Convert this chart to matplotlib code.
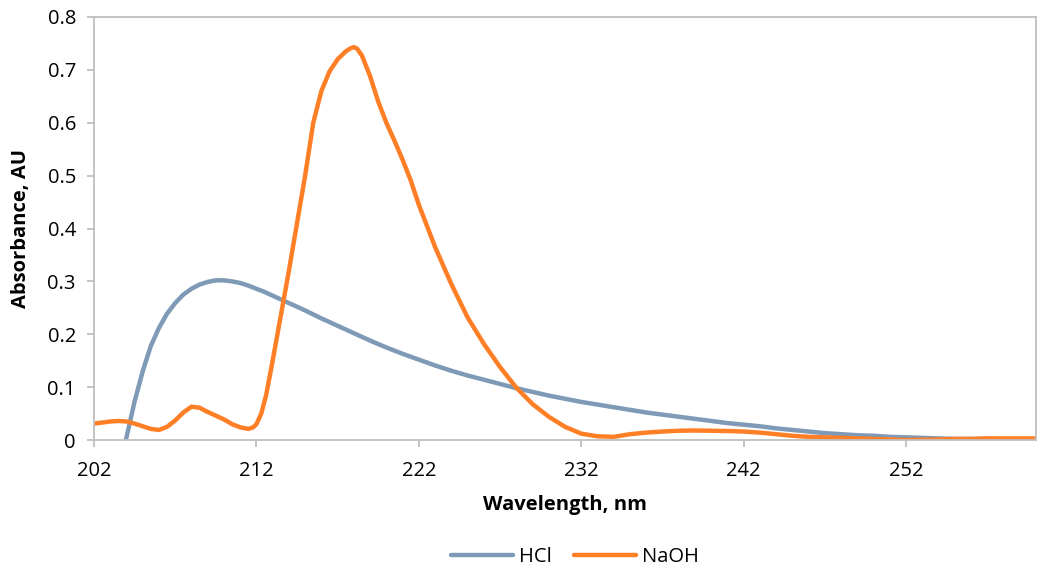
import matplotlib
matplotlib.use("Agg")
import matplotlib.pyplot as plt

hcl_wl = [202, 203, 203.5, 204, 204.5, 205, 205.5, 206, 206.5, 207, 207.5, 208, 208.5, 209, 209.5, 210, 210.5,
          211, 211.5, 212, 212.5, 213, 214, 215, 216, 217, 218, 219, 220, 221, 222, 223, 224, 225, 226, 227, 228,
          229, 230, 231, 232, 233, 234, 235, 236, 237, 238, 239, 240, 241, 242, 243, 244, 245, 246,
          247, 248, 249, 250, 251, 252, 253, 254, 255, 256, 257, 258, 259, 260]
hcl_abs = [-0.26, -0.13, -0.06, 0.005, 0.073, 0.13, 0.178, 0.212, 0.239, 0.259, 0.275, 0.286, 0.294, 0.299, 0.302, 0.302, 0.300,
           0.297, 0.292, 0.286, 0.280, 0.273, 0.259, 0.245, 0.23, 0.216, 0.202, 0.188, 0.175, 0.163, 0.152, 0.141, 0.131, 0.122, 0.114, 0.106, 0.098,
           0.091, 0.084, 0.078, 0.072, 0.067, 0.062, 0.057, 0.052, 0.048, 0.044, 0.040, 0.036, 0.032, 0.029, 0.026, 0.022, 0.019, 0.016,
           0.013, 0.011, 0.009, 0.008, 0.006, 0.005, 0.004, 0.003, 0.002, 0.002, 0.002, 0.001, 0.001, 0.001]

naoh_wl = [202, 202.5, 203, 203.5, 204, 204.5, 205, 205.5, 206, 206.5, 207, 207.5, 208, 208.5, 209, 209.5,
           210, 210.5, 211, 211.5, 211.8, 212, 212.3, 212.6, 213, 213.5, 214, 214.5, 215, 215.5, 216, 216.5,
           217, 217.5, 217.8, 218, 218.2, 218.5, 219, 219.5, 220, 220.5, 221, 221.5, 222, 222.5, 223, 223.5,
           224, 225, 226, 227, 228, 229, 230, 231, 232, 233, 234, 235, 236, 237, 238,
           239, 240, 241, 242, 243, 244, 245, 246, 247, 248, 249, 250, 251, 252, 253, 254, 255, 256,
           257, 258, 259, 260]
naoh_abs = [0.031, 0.033, 0.035, 0.036, 0.035, 0.031, 0.026, 0.021, 0.019, 0.025, 0.037, 0.052, 0.063, 0.061, 0.053, 0.046,
            0.039, 0.030, 0.024, 0.021, 0.024, 0.030, 0.050, 0.085, 0.150, 0.235, 0.320, 0.410, 0.50, 0.600, 0.660, 0.697,
            0.72, 0.735, 0.741, 0.743, 0.740, 0.727, 0.688, 0.640, 0.600, 0.566, 0.530, 0.491, 0.445, 0.405, 0.365, 0.330,
            0.295, 0.232, 0.182, 0.138, 0.099, 0.068, 0.044, 0.025, 0.012, 0.007, 0.006, 0.011, 0.014, 0.016, 0.0175,
            0.018, 0.0175, 0.017, 0.016, 0.014, 0.011, 0.008, 0.006, 0.005, 0.004, 0.003, 0.002, 0.001, 0.0, 0.0005, 0.001, 0.002, 0.002,
            0.003, 0.003, 0.003, 0.003]

x_ticks = [202, 212, 222, 232, 242, 252]
y_ticks = [0, 0.1, 0.2, 0.3, 0.4, 0.5, 0.6, 0.7, 0.8]
y_tick_labels = ["0", "0.1", "0.2", "0.3", "0.4", "0.5", "0.6", "0.7", "0.8"]

plt.rcParams['font.family'] = ['Open Sans', 'DejaVu Sans']

fig = plt.figure(figsize=(10.46, 5.74), dpi=100)
ax = fig.add_axes([94/1046, 1-440/574, (1036-94)/1046, (440-17)/574])

blue = "#7E9AB6"
orange = "#FF7F27"
ax.plot(hcl_wl, hcl_abs, color=blue, lw=3.2, label="HCl", solid_capstyle="round", solid_joinstyle="round")
ax.plot(naoh_wl, naoh_abs, color=orange, lw=3.2, label="NaOH", solid_capstyle="round", solid_joinstyle="round")

ax.set_xlim(202, 260)
ax.set_ylim(0, 0.8)
ax.set_xticks(x_ticks)
ax.set_xticklabels([str(t) for t in x_ticks])
ax.set_yticks(y_ticks)
ax.set_yticklabels(y_tick_labels)

for s in ax.spines.values():
    s.set_color("#BFBFBF")
    s.set_linewidth(1.3)
ax.tick_params(axis="both", colors="#BFBFBF", length=5, width=1.3, labelcolor="black", labelsize=14.5)
ax.tick_params(axis="x", pad=10)
ax.tick_params(axis="y", pad=8)

ax.set_xlabel("Wavelength, nm", fontsize=14.5, fontweight="bold", labelpad=10)
ax.set_ylabel("Absorbance, AU", fontsize=14.5, fontweight="bold", labelpad=12)

leg = fig.legend(loc="center", bbox_to_anchor=(575/1046, 1-557/574), ncol=2, frameon=False,
                 fontsize=14.5, handlelength=3.1, handletextpad=0.3, columnspacing=1.1)

fig.savefig("out.png", dpi=100)
